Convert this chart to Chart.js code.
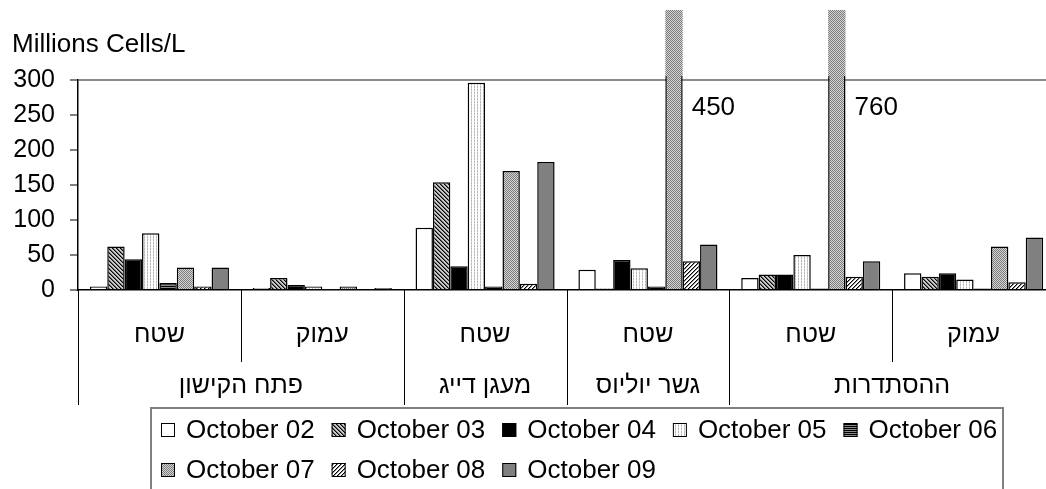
<!DOCTYPE html>
<html>
<head>
<meta charset="utf-8">
<script src="https://cdn.jsdelivr.net/npm/chart.js@4/dist/chart.umd.min.js"></script>
<style>
  html, body { margin: 0; padding: 0; overflow: hidden; background: #fff; }
  canvas { display: block; }
</style>
</head>
<body>
<canvas id="chart" width="1056" height="489"></canvas>
<script>
// Sampling stations (outer axis level) and depth (inner axis level)
const sites  = ['פתח הקישון', 'פתח הקישון', 'מעגן דייג', 'גשר יוליוס', 'ההסתדרות', 'ההסתדרות'];
const depths = ['שטח', 'עמוק', 'שטח', 'שטח', 'שטח', 'עמוק'];

// Cell counts per sampling date (millions cells / L)
const seriesNames = ['October 02', 'October 03', 'October 04', 'October 05',
                     'October 06', 'October 07', 'October 08', 'October 09'];
const oct02 = [5, 3, 89, 29, 17, 24];
const oct03 = [62, 17, 154, 2, 22, 19];
const oct04 = [44, 7, 34, 43, 22, 24];
const oct05 = [81, 5, 296, 31, 50, 15];
const oct06 = [10, 1, 5, 5, 2, 2];
const oct07 = [32, 5, 170, 450, 760, 62];
const oct08 = [5, 0, 9, 41, 19, 11];
const oct09 = [32, 3, 183, 65, 41, 75];

const yTicks = [0, 50, 100, 150, 200, 250, 300];
const yTitle = 'Millions Cells/L';

const FONT = '"Liberation Sans", Arial, sans-serif';
const canvas = document.getElementById('chart');
const mainCtx = canvas.getContext('2d');

// Small repeating fill textures
function tile(size, paint) {
  const c = document.createElement('canvas');
  c.width = c.height = size;
  const g = c.getContext('2d');
  g.fillStyle = '#fff';
  g.fillRect(0, 0, size, size);
  for (let y = 0; y < size; y++) {
    for (let x = 0; x < size; x++) {
      const col = paint(x, y);
      if (col) { g.fillStyle = col; g.fillRect(x, y, 1, 1); }
    }
  }
  return mainCtx.createPattern(c, 'repeat');
}

const fills = [
  '#ffffff',                                                            // plain white
  tile(4, (x, y) => ((x - y + 8) % 4 === 0 ? '#000' : ((x - y + 8) % 4 === 1 ? '#6a6a6a' : '#c8c8c8'))), // dense downward diagonal
  '#000000',                                                            // solid black
  tile(3, (x, y) => (x % 3 === 0 ? (y % 2 === 0 ? '#b8b8b8' : '#dcdcdc') : null)), // light vertical lines
  tile(2, (x, y) => (y % 2 === 0 ? '#000' : '#8c8c8c')),                // dark horizontal stripes
  tile(2, (x, y) => ((x + y) % 2 === 0 ? '#7c7c7c' : '#d4d4d4')),       // gray dotted mesh
  tile(4, (x, y) => ((x + y) % 4 === 0 ? '#000' : ((x + y) % 4 === 1 ? '#8c8c8c' : null))), // upward diagonal
  '#808080'                                                             // solid gray
];

const values = [oct02, oct03, oct04, oct05, oct06, oct07, oct08, oct09];

const datasets = seriesNames.map((name, i) => ({
  label: name,
  data: values[i],
  backgroundColor: fills[i],
  borderColor: '#000',
  borderWidth: 1.5,
  categoryPercentage: 0.854,
  barPercentage: 1,
  clip: { left: false, right: false, bottom: false, top: 4 }
}));

// Bars taller than the axis range: a texture stub above the frame plus the value
const overflowBars = {
  id: 'overflowBars',
  afterDatasetsDraw(chart) {
    const { ctx, chartArea } = chart;
    const yScale = chart.scales.y;
    ctx.save();
    chart.data.datasets.forEach((ds, di) => {
      const meta = chart.getDatasetMeta(di);
      meta.data.forEach((bar, j) => {
        const v = ds.data[j];
        if (v <= yScale.max) return;
        const left = bar.x - bar.width / 2;
        ctx.fillStyle = ds.backgroundColor;
        ctx.fillRect(left, chartArea.top - 70, bar.width, 70 - 4);
        ctx.fillStyle = '#000';
        ctx.font = '26px ' + FONT;
        ctx.textAlign = 'left';
        ctx.textBaseline = 'middle';
        ctx.fillText(String(v), bar.x + bar.width / 2 + 9, chartArea.top + 28);
      });
    });
    ctx.restore();
  }
};

// Two-level category axis: separators and station names
const groupAxis = {
  id: 'groupAxis',
  afterDraw(chart) {
    const { ctx, chartArea } = chart;
    const x = chart.scales.x;
    const n = depths.length;
    const w = (x.right - x.left) / n;
    const base = chartArea.bottom;
    ctx.save();
    ctx.strokeStyle = '#000';
    ctx.lineWidth = 1;
    for (let i = 0; i <= n; i++) {
      const px = Math.round(x.left + i * w) + 0.5;
      const isGroupEdge = i === 0 || i === n || sites[i] !== sites[i - 1];
      ctx.beginPath();
      ctx.moveTo(px, base);
      ctx.lineTo(px, base + (isGroupEdge ? 115 : 72));
      ctx.stroke();
    }
    ctx.fillStyle = '#000';
    ctx.font = '25px ' + FONT;
    ctx.textAlign = 'center';
    ctx.textBaseline = 'middle';
    let start = 0;
    for (let i = 1; i <= n; i++) {
      if (i === n || sites[i] !== sites[start]) {
        const cx = x.left + ((start + i) / 2) * w;
        ctx.fillText(sites[start], cx, base + 96);
        start = i;
      }
    }
    ctx.restore();
  }
};

// Framed legend under the axis, wrapping into rows
const boxLegend = {
  id: 'boxLegend',
  afterDraw(chart) {
    const { ctx } = chart;
    const frame = { left: 151, top: 408, right: 1003 };
    ctx.save();
    ctx.strokeStyle = '#808080';
    ctx.lineWidth = 2;
    ctx.strokeRect(frame.left, frame.top, frame.right - frame.left, 140);
    ctx.font = '26px ' + FONT;
    ctx.textAlign = 'left';
    ctx.textBaseline = 'middle';
    const x0 = frame.left + 10;
    let x = x0, row = 0;
    chart.data.datasets.forEach(ds => {
      const w = 14 + 11 + ctx.measureText(ds.label).width;
      if (x + w > frame.right - 4) { row++; x = x0; }
      const cy = frame.top + 22 + row * 40;
      ctx.fillStyle = ds.backgroundColor;
      ctx.fillRect(x, cy - 7, 14, 14);
      ctx.strokeStyle = '#000';
      ctx.lineWidth = 1;
      ctx.strokeRect(x + 0.5, cy - 6.5, 13, 13);
      ctx.fillStyle = '#000';
      ctx.fillText(ds.label, x + 25, cy + 1);
      x += w + 17;
    });
    ctx.restore();
  }
};

new Chart(canvas, {
  type: 'bar',
  data: { labels: depths, datasets },
  plugins: [overflowBars, groupAxis, boxLegend],
  options: {
    responsive: false,
    animation: false,
    devicePixelRatio: 1,
    layout: { padding: { left: 12, right: 1, top: 0, bottom: 81 } },
    plugins: {
      legend: { display: false },
      tooltip: { enabled: false },
      title: {
        display: true,
        text: yTitle,
        align: 'start',
        color: '#000',
        font: { family: FONT, size: 26, weight: 'normal', lineHeight: 1.2 },
        padding: { top: 29, bottom: 19.8 }
      }
    },
    scales: {
      x: {
        type: 'category',
        offset: true,
        grid: { display: false },
        border: { display: true, color: '#000', width: 1.5 },
        ticks: { color: '#000', font: { family: FONT, size: 25 }, padding: 22, maxRotation: 0, autoSkip: false },
        afterFit(scale) { scale.height = 118; }
      },
      y: {
        min: 0,
        max: 300,
        afterBuildTicks(scale) { scale.ticks = yTicks.map(v => ({ value: v })); },
        grid: {
          color: c => (c.tick && c.tick.value === 300 ? '#8c8c8c' : 'rgba(0,0,0,0)'),
          lineWidth: 2,
          tickColor: '#000',
          tickWidth: 1,
          tickLength: 8
        },
        border: { display: true, color: '#000', width: 1.5 },
        ticks: { color: '#000', font: { family: FONT, size: 25 }, padding: 15 },
        afterFit(scale) { scale.width = 66; }
      }
    }
  }
});
</script>
</body>
</html>
